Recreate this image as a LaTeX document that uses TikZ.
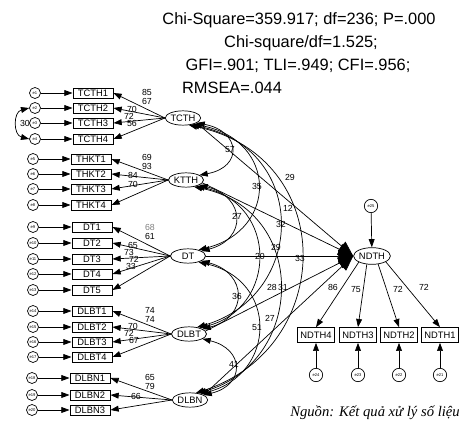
\documentclass[tikz,border=0pt]{standalone}
\usepackage{fontspec}
\setmainfont{Liberation Sans}
\newfontfamily\notefont{Liberation Serif}
\usetikzlibrary{arrows.meta,positioning,shapes.geometric}

\begin{document}
\begin{tikzpicture}[x=0.03cm,y=-0.03cm,
obs/.style={draw,line width=.8pt,minimum width=1.2cm,minimum height=.3cm,inner sep=0pt,font=\fontsize{8}{8}\selectfont},
obsb/.style={obs,minimum width=1.12cm,minimum height=.44cm},
lat/.style={draw,ellipse,line width=.6pt,minimum width=1.05cm,minimum height=.43cm,inner sep=0pt,font=\fontsize{8}{8}\selectfont},
err/.style={draw,circle,line width=.6pt,minimum size=.33cm,inner sep=0pt,font=\fontsize{3.5}{3.5}\selectfont},
errb/.style={err,minimum size=.4cm},
arr/.style={-{Triangle[length=7pt,width=5pt]},line width=.6pt},
cov/.style={{Triangle[length=7pt,width=5pt]}-{Triangle[length=7pt,width=5pt]},line width=.6pt},
big/.style={-{Triangle[length=13pt,width=10pt]},line width=.6pt},
lab/.style={font=\fontsize{7.5}{7.5}\selectfont,inner sep=0pt},
title/.style={font=\fontsize{14}{14}\selectfont,inner sep=0pt},
note/.style={font=\notefont\itshape\fontsize{12.5}{12.5}\selectfont,inner sep=0pt}]
\useasboundingbox (0,0) rectangle (462,428);
% fit indices
\node[title] (t1) at (299,20) {Chi-Square=359.917; df=236; P=.000};
\node[title] (t2) at (301,43) {Chi-square/df=1.525;};
\node[title] (t3) at (298,66) {GFI=.901; TLI=.949; CFI=.956;};
\node[title] (t4) at (232,88) {RMSEA=.044};
% latent variables
\node[lat] (TCTH) at (183,118) {TCTH};
\node[lat] (KTTH) at (186,180) {KTTH};
\node[lat] (DT) at (188,256) {DT};
\node[lat] (DLBT) at (189,334) {DLBT};
\node[lat] (DLBN) at (190,400) {DLBN};
\node[lat,minimum width=1.1cm,minimum height=.5cm] (NDTH) at (372,256) {NDTH};
% observed variables
\node[obs] (tcth1) at (93,93) {TCTH1};
\node[obs] (tcth2) at (93,108) {TCTH2};
\node[obs] (tcth3) at (93,123) {TCTH3};
\node[obs] (tcth4) at (93,139) {TCTH4};
\node[obs] (thkt1) at (91,159) {THKT1};
\node[obs] (thkt2) at (91,174) {THKT2};
\node[obs] (thkt3) at (91,189) {THKT3};
\node[obs] (thkt4) at (91,205) {THKT4};
\node[obs] (dt1) at (92,227) {DT1};
\node[obs] (dt2) at (92,243) {DT2};
\node[obs] (dt3) at (92,259) {DT3};
\node[obs] (dt4) at (92,274) {DT4};
\node[obs] (dt5) at (92,290) {DT5};
\node[obs] (dlbt1) at (92,311) {DLBT1};
\node[obs] (dlbt2) at (92,327) {DLBT2};
\node[obs] (dlbt3) at (92,342) {DLBT3};
\node[obs] (dlbt4) at (92,357) {DLBT4};
\node[obs] (dlbn1) at (90,378) {DLBN1};
\node[obs] (dlbn2) at (90,395) {DLBN2};
\node[obs] (dlbn3) at (90,410) {DLBN3};
\node[obsb] (ndth4) at (316,335) {NDTH4};
\node[obsb] (ndth3) at (358,335) {NDTH3};
\node[obsb] (ndth2) at (399,335) {NDTH2};
\node[obsb] (ndth1) at (440,335) {NDTH1};
% error terms
\node[err] (e1) at (35,93) {e1};
\node[err] (e2) at (35,108) {e2};
\node[err] (e3) at (35,123) {e3};
\node[err] (e4) at (35,139) {e4};
\node[err] (e5) at (33,159) {e5};
\node[err] (e6) at (33,174) {e6};
\node[err] (e7) at (33,189) {e7};
\node[err] (e8) at (33,205) {e8};
\node[err] (e9) at (33,227) {e9};
\node[err] (e10) at (33,243) {e10};
\node[err] (e11) at (33,259) {e11};
\node[err] (e12) at (33,274) {e12};
\node[err] (e13) at (33,290) {e13};
\node[err] (e14) at (33,311) {e14};
\node[err] (e15) at (33,327) {e15};
\node[err] (e16) at (33,342) {e16};
\node[err] (e17) at (33,357) {e17};
\node[err] (e18) at (32,378) {e18};
\node[err] (e19) at (32,395) {e19};
\node[err] (e20) at (32,410) {e20};
\node[errb] (e24) at (316,375) {e24};
\node[errb] (e23) at (358,375) {e23};
\node[errb] (e22) at (399,375) {e22};
\node[errb] (e21) at (440,375) {e21};
\node[errb] (e25) at (371,206) {e25};
% error arrows
\draw[arr] (e1)--(tcth1);
\draw[arr] (e2)--(tcth2);
\draw[arr] (e3)--(tcth3);
\draw[arr] (e4)--(tcth4);
\draw[arr] (e5)--(thkt1);
\draw[arr] (e6)--(thkt2);
\draw[arr] (e7)--(thkt3);
\draw[arr] (e8)--(thkt4);
\draw[arr] (e9)--(dt1);
\draw[arr] (e10)--(dt2);
\draw[arr] (e11)--(dt3);
\draw[arr] (e12)--(dt4);
\draw[arr] (e13)--(dt5);
\draw[arr] (e14)--(dlbt1);
\draw[arr] (e15)--(dlbt2);
\draw[arr] (e16)--(dlbt3);
\draw[arr] (e17)--(dlbt4);
\draw[arr] (e18)--(dlbn1);
\draw[arr] (e19)--(dlbn2);
\draw[arr] (e20)--(dlbn3);
\draw[arr] (e24)--(ndth4);
\draw[arr] (e23)--(ndth3);
\draw[arr] (e22)--(ndth2);
\draw[arr] (e21)--(ndth1);
\draw[arr] (e25)--(NDTH);
\draw[cov] (e2.west) .. controls +(-16,4) and +(-16,-4) .. (e4.west);
\node[lab] (l30) at (25,123) {30};
% loadings
\draw[arr] (TCTH.west)--(tcth1.east);
\draw[arr] (TCTH.west)--(tcth2.east);
\draw[arr] (TCTH.west)--(tcth3.east);
\draw[arr] (TCTH.west)--(tcth4.east);
\draw[arr] (KTTH.west)--(thkt1.east);
\draw[arr] (KTTH.west)--(thkt2.east);
\draw[arr] (KTTH.west)--(thkt3.east);
\draw[arr] (KTTH.west)--(thkt4.east);
\draw[arr] (DT.west)--(dt1.east);
\draw[arr] (DT.west)--(dt2.east);
\draw[arr] (DT.west)--(dt3.east);
\draw[arr] (DT.west)--(dt4.east);
\draw[arr] (DT.west)--(dt5.east);
\draw[arr] (DLBT.west)--(dlbt1.east);
\draw[arr] (DLBT.west)--(dlbt2.east);
\draw[arr] (DLBT.west)--(dlbt3.east);
\draw[arr] (DLBT.west)--(dlbt4.east);
\draw[arr] (DLBN.west)--(dlbn1.east);
\draw[arr] (DLBN.west)--(dlbn2.east);
\draw[arr] (DLBN.west)--(dlbn3.east);
\draw[arr] (NDTH.-155)--(ndth4.north);
\draw[arr] (NDTH.-122)--(ndth3.north);
\draw[arr] (NDTH.-53)--(ndth2.north);
\draw[arr] (NDTH.-23)--(ndth1.north);
\node[lab] (l85) at (147,92) {85};
\node[lab] (l67) at (147,101) {67};
\node[lab] (l70a) at (132,109) {70};
\node[lab] (l72a) at (129,116) {72};
\node[lab] (l56) at (132,123) {56};
\node[lab] (l69) at (147,157) {69};
\node[lab] (l93) at (147,166) {93};
\node[lab] (l84) at (133,175) {84};
\node[lab] (l70b) at (133,184) {70};
\node[lab,gray] (l68) at (150,227) {68};
\node[lab] (l61) at (150,236) {61};
\node[lab] (l65a) at (133,245) {65};
\node[lab] (l73) at (129,252) {73};
\node[lab] (l72b) at (134,259) {72};
\node[lab] (l33a) at (131,266) {33};
\node[lab] (l74a) at (150,310) {74};
\node[lab] (l74b) at (150,319) {74};
\node[lab] (l70c) at (133,326) {70};
\node[lab] (l72c) at (129,333) {72};
\node[lab] (l67b) at (134,340) {67};
\node[lab] (l65b) at (150,377) {65};
\node[lab] (l79) at (150,386) {79};
\node[lab] (l66) at (136,396) {66};
% covariances
\draw[cov] (TCTH.-20) .. controls +(44,8) and +(44,-8) .. (KTTH.20);
\draw[cov] (KTTH.-20) .. controls +(46,12) and +(46,-12) .. (DT.20);
\draw[cov] (DT.-20) .. controls +(46,12) and +(46,-12) .. (DLBT.20);
\draw[cov] (DLBT.-20) .. controls +(42,10) and +(42,-10) .. (DLBN.20);
\draw[cov] (TCTH.-30) .. controls +(84,16) and +(80,-20) .. (DT.30);
\draw[cov] (KTTH.-30) .. controls +(82,18) and +(78,-20) .. (DLBT.30);
\draw[cov] (DT.-30) .. controls +(80,18) and +(76,-20) .. (DLBN.30);
\draw[cov] (TCTH.-40) .. controls +(118,24) and +(110,-32) .. (DLBT.40);
\draw[cov] (KTTH.-40) .. controls +(115,24) and +(108,-32) .. (DLBN.40);
\draw[cov] (TCTH.-50) .. controls +(150,32) and +(140,-45) .. (DLBN.50);
% paths to NDTH
\draw[big] (TCTH.-20)--(NDTH.west);
\draw[big] (KTTH.-10)--(NDTH.west);
\draw[big] (DT.east)--(NDTH.west);
\draw[big] (DLBT.10)--(NDTH.west);
\draw[big] (DLBN.20)--(NDTH.west);
\node[lab] (l57) at (230,150) {57};
\node[lab] (l35) at (257,186) {35};
\node[lab] (l29a) at (290,177) {29};
\node[lab] (l12) at (288,208) {12};
\node[lab] (l32) at (281,224) {32};
\node[lab] (l27a) at (237,216) {27};
\node[lab] (l29b) at (276,247) {29};
\node[lab] (l20) at (260,256) {20};
\node[lab] (l33b) at (300,258) {33};
\node[lab] (l28) at (272,287) {28};
\node[lab] (l31) at (283,287) {31};
\node[lab] (l36) at (237,296) {36};
\node[lab] (l27b) at (270,318) {27};
\node[lab] (l51) at (257,328) {51};
\node[lab] (l41) at (234,364) {41};
\node[lab] (l86) at (333,287) {86};
\node[lab] (l75) at (356,290) {75};
\node[lab] (l72d) at (398,289) {72};
\node[lab] (l72e) at (424,287) {72};
% source
\node[note,anchor=east] (src) at (460,413) {Nguồn: Kết quả xử lý số liệu};
\end{tikzpicture}
\end{document}
